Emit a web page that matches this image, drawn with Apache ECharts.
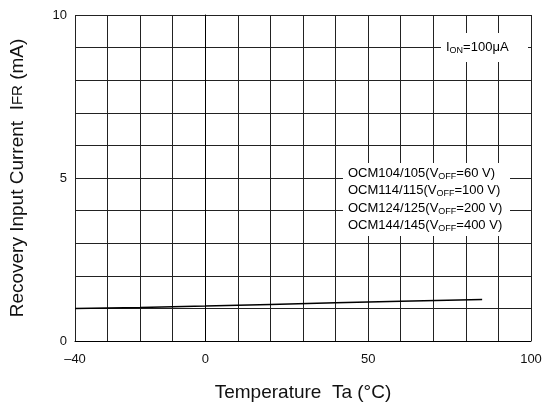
<!DOCTYPE html>
<html><head><meta charset="utf-8">
<script src="https://cdn.jsdelivr.net/npm/echarts@6/dist/echarts.min.js"></script>
<style>html,body{margin:0;padding:0;background:#fff}#c{width:555px;height:408px}</style>
</head><body><div id="c"></div>
<script>
const temps = [-40, -20, 0, 20, 40, 60, 85];
const current = [1.0, 1.03, 1.07, 1.12, 1.17, 1.22, 1.27];
const xTickLabels = [-40, 0, 50, 100];
const yTickLabels = [0, 5, 10];
const legendLines = [['OCM104/105(V', 'OFF', '=60 V)'], ['OCM114/115(V', 'OFF', '=100 V)'], ['OCM124/125(V', 'OFF', '=200 V)'], ['OCM144/145(V', 'OFF', '=400 V)']];

const FONT = "'Liberation Sans Narrow', 'Liberation Sans', sans-serif";
const chart = echarts.init(document.getElementById('c'));
const gridLine = {show: true, lineStyle: {color: '#222', width: 1}};
const rich = {n: {fontSize: 13, fontFamily: FONT, color: '#111'}, s: {fontSize: 9, fontFamily: FONT, color: '#111', padding: [6, 0, 0, 0]}};
chart.setOption({
  animation: false,
  grid: {left: 74, right: 24, top: 15, bottom: 67},
  xAxis: {
    type: 'value', min: -40, max: 100, interval: 10,
    axisLine: {show: true, lineStyle: {color: '#000', width: 1}}, axisTick: {show: false},
    splitLine: gridLine,
    axisLabel: {color: '#111', fontSize: 13, fontFamily: FONT, margin: 12,
      formatter: v => xTickLabels.includes(v) ? (v < 0 ? '\u2013' + Math.abs(v) : String(v)) : ''},
    name: 'Temperature  Ta (\u00B0C)', nameLocation: 'middle', nameGap: 42,
    nameTextStyle: {fontSize: 19, fontFamily: FONT, color: '#111'}
  },
  yAxis: {
    type: 'value', min: 0, max: 10, interval: 1,
    axisLine: {show: true, lineStyle: {color: '#000', width: 1}}, axisTick: {show: false},
    splitLine: gridLine,
    axisLabel: {color: '#111', fontSize: 13, fontFamily: FONT, margin: 8,
      formatter: v => yTickLabels.includes(v) ? String(v) : ''},
    name: '{a|Recovery Input Current  I}{b|FR}{a| (mA)}', nameLocation: 'middle', nameGap: 48,
    nameTextStyle: {rich: {a: {fontSize: 19, fontFamily: FONT, color: '#111'}, b: {fontSize: 15, fontFamily: FONT, color: '#111'}}}
  },
  series: [{
    type: 'line', data: temps.map((t, i) => [t, current[i]]), showSymbol: false,
    lineStyle: {color: '#000', width: 1.5}, z: 3
  }],
  graphic: [
    {type: 'rect', shape: {x: 441, y: 33, width: 87, height: 29}, style: {fill: '#fff'}, z: 10},
    {type: 'text', x: 446, y: 40, z: 11, style: {text: '{n|I}{s|ON}{n|=100\u03BCA}', rich: rich}},
    {type: 'rect', shape: {x: 343, y: 163, width: 167, height: 73}, style: {fill: '#fff'}, z: 10},
    ...legendLines.map((l, i) => ({type: 'text', x: 348, y: 166 + i * 17.3, z: 11,
      style: {text: '{n|' + l[0] + '}{s|' + l[1] + '}{n|' + l[2] + '}', rich: rich}}))
  ]
});
</script></body></html>
